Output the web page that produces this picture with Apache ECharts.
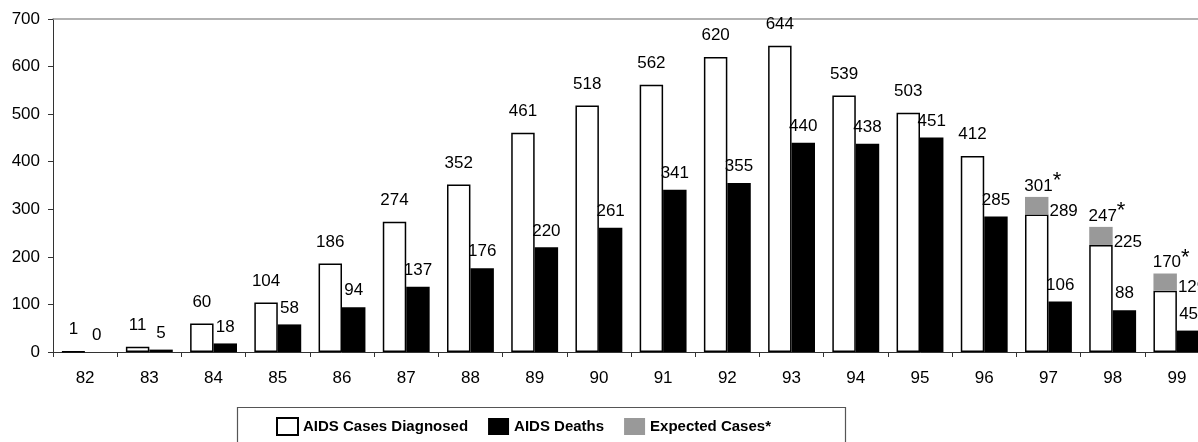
<!DOCTYPE html>
<html>
<head>
<meta charset="utf-8">
<script src="https://cdn.jsdelivr.net/npm/echarts@6/dist/echarts.min.js"></script>
<style>
  html, body { margin: 0; padding: 0; background: #fff; overflow: hidden; }
  #chart { width: 1209px; height: 442px; }
</style>
</head>
<body>
<div id="chart"></div>
<script>
// ---- data ----
const years = ['82','83','84','85','86','87','88','89','90','91','92','93','94','95','96','97','98','99'];
const casesDiagnosed = [1, 11, 60, 104, 186, 274, 352, 461, 518, 562, 620, 644, 539, 503, 412, 289, 225, 129];
const aidsDeaths = [0, 5, 18, 58, 94, 137, 176, 220, 261, 341, 355, 440, 438, 451, 285, 106, 88, 45];
// expected totals (label text) and the height of the grey block drawn above the cases bar
const expectedTotals = [null, null, null, null, null, null, null, null, null, null, null, null, null, null, null, 301, 247, 170];
const expectedBlock = [null, null, null, null, null, null, null, null, null, null, null, null, null, null, null, 37, 38, 36];
const yTicks = { min: 0, max: 700, interval: 100 };

const FONT = '"Liberation Sans", Arial, sans-serif';
const chart = echarts.init(document.getElementById('chart'), null, { renderer: 'canvas' });

const casesData = casesDiagnosed.map((v, i) => expectedTotals[i] != null
  ? { value: v, label: { position: ['100%', 0], align: 'left', verticalAlign: 'middle', offset: [1, -3] } }
  : v);
const expData = expectedBlock.map(v => v == null ? '-' : v);

chart.setOption({
  animation: false,
  textStyle: { fontFamily: FONT },
  grid: { left: 53, right: 0, top: 19, bottom: 90, containLabel: false },
  legend: {
    left: 276, top: 417, padding: 0,
    itemWidth: 21, itemHeight: 17, itemGap: 20,
    icon: 'rect',
    textStyle: { fontFamily: FONT, fontSize: 15, fontWeight: 'bold', color: '#000' },
    data: [
      { name: 'AIDS Cases Diagnosed', itemStyle: { color: '#fff', borderColor: '#000', borderWidth: 2 } },
      { name: 'AIDS Deaths' },
      { name: 'Expected Cases*' }
    ]
  },
  graphic: [{
    type: 'rect', left: 235, top: 405, silent: true,
    shape: { width: 608, height: 60 },
    style: { fill: 'none', stroke: '#555', lineWidth: 1.2 }
  }],
  xAxis: [{
    type: 'category', data: years,
    axisLine: { lineStyle: { color: '#333', width: 1 } },
    axisTick: { show: true, length: 5, lineStyle: { color: '#333' } },
    axisLabel: { fontFamily: FONT, fontSize: 17, color: '#000', margin: 18 }
  }, {
    type: 'category', data: years, position: 'top',
    axisLine: { lineStyle: { color: '#999', width: 1.5 } },
    axisTick: { show: false }, axisLabel: { show: false }
  }],
  yAxis: {
    type: 'value', min: yTicks.min, max: yTicks.max, interval: yTicks.interval,
    axisLine: { show: true, lineStyle: { color: '#333', width: 1 } },
    axisTick: { show: true, length: 5, lineStyle: { color: '#333' } },
    splitLine: { show: false },
    axisLabel: { fontFamily: FONT, fontSize: 17, color: '#000', margin: 13 }
  },
  series: [{
    name: 'AIDS Cases Diagnosed', type: 'bar', stack: 'cases',
    data: casesData,
    barGap: '0%', barCategoryGap: '27%',
    itemStyle: { color: '#fff', borderColor: '#000', borderWidth: 1.5 },
    label: { show: true, position: 'top', distance: 13, fontFamily: FONT, fontSize: 17, color: '#000' }
  }, {
    name: 'Expected Cases*', type: 'bar', stack: 'cases',
    data: expData,
    itemStyle: { color: '#999999' },
    label: {
      show: true, position: 'top', distance: 0, offset: [6, 5],
      formatter: p => '{n|' + expectedTotals[p.dataIndex] + '}{s|*}',
      rich: {
        n: { fontFamily: FONT, fontSize: 17, color: '#000' },
        s: { fontFamily: FONT, fontSize: 22, color: '#000', padding: [0, 0, 10, 0] }
      }
    }
  }, {
    name: 'AIDS Deaths', type: 'bar', stack: 'deaths',
    data: aidsDeaths,
    itemStyle: { color: '#000' },
    label: { show: true, position: 'top', distance: 8, fontFamily: FONT, fontSize: 17, color: '#000' }
  }]
});
</script>
</body>
</html>
